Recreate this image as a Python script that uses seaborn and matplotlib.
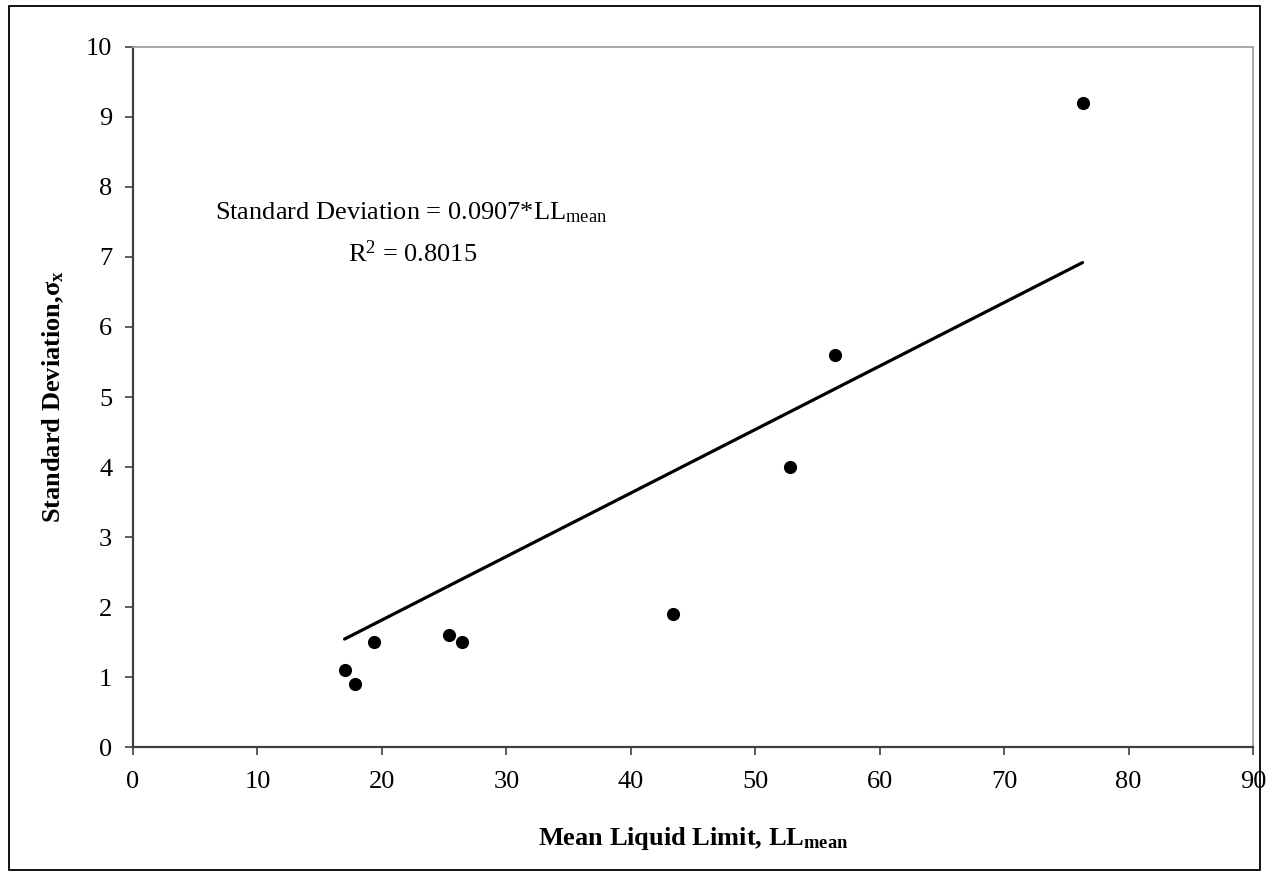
import numpy as np
import pandas as pd
import seaborn as sns
import matplotlib.pyplot as plt
from matplotlib.patches import Rectangle

# Mean liquid limit vs. standard deviation of the measurements
ll_mean = [17.0, 17.8, 19.4, 25.4, 26.4, 43.4, 52.8, 56.4, 76.3]
std_dev = [1.1, 0.9, 1.5, 1.6, 1.5, 1.9, 4.0, 5.6, 9.2]

# Regression through the origin
slope = 0.0907
r_squared = 0.8015

x_ticks = list(range(0, 91, 10))
y_ticks = list(range(0, 11))

sns.set_theme(style="white")
plt.rcParams["font.family"] = ["Liberation Serif", "DejaVu Serif"]
plt.rcParams["mathtext.fontset"] = "custom"
plt.rcParams["mathtext.rm"] = "Liberation Serif"
plt.rcParams["mathtext.it"] = "Liberation Serif:italic"
plt.rcParams["mathtext.bf"] = "Liberation Serif:bold"
plt.rcParams["text.color"] = "black"
plt.rcParams["axes.labelcolor"] = "black"
plt.rcParams["xtick.labelcolor"] = "black"
plt.rcParams["ytick.labelcolor"] = "black"

points = pd.DataFrame({"ll": ll_mean, "sd": std_dev})
fit_x = np.array([min(ll_mean), max(ll_mean)])
fit = pd.DataFrame({"ll": fit_x, "sd": slope * fit_x})

fig = plt.figure(figsize=(12.68, 8.77), dpi=100)
ax = fig.add_axes([0.10489, 0.14823, 0.88328, 0.79818])

sns.lineplot(data=fit, x="ll", y="sd", ax=ax, color="black", linewidth=2.3)
sns.scatterplot(data=points, x="ll", y="sd", ax=ax, color="black", s=90,
                edgecolor="black", linewidth=0, zorder=3)

ax.set_xlim(0, 90)
ax.set_ylim(0, 10)
ax.set_xticks(x_ticks)
ax.set_yticks(y_ticks)
ax.tick_params(axis="both", which="major", direction="out", length=6,
               width=1.2, color="#404040", labelcolor="black", labelsize=19,
               left=True, bottom=True)
ax.tick_params(axis="x", pad=11)
ax.tick_params(axis="y", pad=9)

for side in ("left", "bottom"):
    ax.spines[side].set_color("#404040")
    ax.spines[side].set_linewidth(1.6)
for side in ("top", "right"):
    ax.spines[side].set_color("#a0a0a0")
    ax.spines[side].set_linewidth(1.3)

ax.set_xlabel(r"Mean Liquid Limit, LL$_{\mathbf{mean}}$", fontsize=19,
              fontweight="bold", labelpad=23, color="black")
ax.set_ylabel(r"Standard Deviation,σ$_{\mathbf{x}}$", fontsize=19,
              fontweight="bold", labelpad=14, color="black")

ax.text(6.6, 7.54, r"Standard Deviation = %.4f*LL$_{\mathrm{mean}}$" % slope,
        fontsize=19, ha="left", va="baseline", color="black")
ax.text(17.3, 6.93, r"R$^{2}$ = %.4f" % r_squared,
        fontsize=19, ha="left", va="baseline", color="black")

# Outer frame around the whole figure
fig.patches.append(Rectangle((9 / 1268, 1 - 870 / 877), 1251 / 1268, 864 / 877,
                             transform=fig.transFigure, fill=False,
                             edgecolor="black", linewidth=1.3))

fig.savefig("out.png", dpi=100)
